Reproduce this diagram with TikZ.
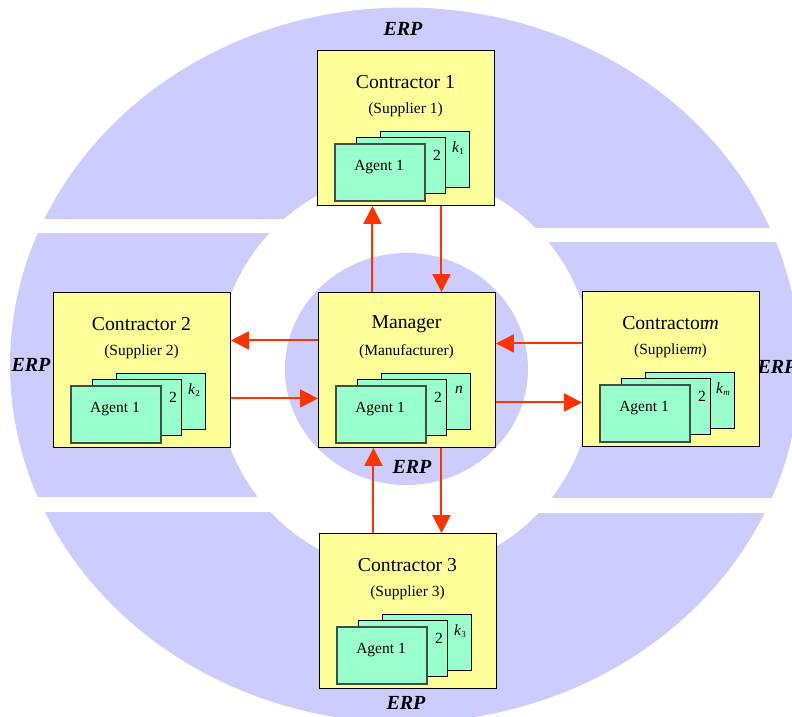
\documentclass[tikz,border=0pt]{standalone}
\usepackage{fontspec}
\setmainfont{Liberation Serif}
\usetikzlibrary{arrows.meta}

\definecolor{erpblue}{HTML}{CCCCFF}
\definecolor{boxyellow}{HTML}{FFFF99}
\definecolor{agentgreen}{HTML}{99FFCC}
\definecolor{flowred}{HTML}{FF3300}
\definecolor{cardedge}{HTML}{3F4F48}

\tikzset{
  unitbox/.style={draw=black, line width=0.9pt, fill=boxyellow,
    minimum width=177pt, minimum height=155pt, inner sep=0pt, anchor=north west},
  card/.style={draw=black, line width=0.8pt, fill=agentgreen,
    minimum width=89pt, minimum height=56pt, inner sep=0pt, anchor=north west},
  frontcard/.style={card, draw=cardedge, line width=1.6pt,
    minimum width=90pt, minimum height=57pt},
  titletext/.style={font=\fontsize{19.7}{22}\selectfont, inner sep=0pt},
  subtext/.style={font=\fontsize{15.5}{18}\selectfont, inner sep=0pt},
  cardtext/.style={font=\fontsize{15.5}{18}\selectfont, inner sep=0pt},
  erplabel/.style={font=\fontsize{20}{24}\selectfont\bfseries\itshape, inner sep=0pt},
  flow/.style={draw=flowred, line width=2pt, -{Triangle[length=18pt,width=18pt]}},
}

% subscript set in a small upright or italic size
\newcommand\smallsub[1]{{\fontsize{9}{9}\selectfont\raisebox{-1.5pt}{#1}}}

% one organisation: yellow box, title, subtitle and a stack of three agent cards
% #1 name, #2 x, #3 y (top-left corner), #4 title, #5 subtitle, #6 label of last agent
\newcommand\agentunit[6]{%
  \begin{scope}[shift={(#2,#3)}]
    \node[unitbox] (#1) at (0,0) {};
    \node[titletext] (#1-title) at (88.5,32) {#4};
    \node[subtext] (#1-sub) at (88.5,60) {#5};
    \node[card] (#1-back) at (63,81) {};
    \node[card] (#1-mid) at (39,87) {};
    \node[frontcard] (#1-front) at (17,93) {};
    \node[cardtext] (#1-agent) at (62,117) {Agent 1};
    \node[cardtext] (#1-two) at (120,105) {2};
    \node[cardtext] (#1-last) at (141,98) {#6};
  \end{scope}}

\begin{document}
\begin{tikzpicture}[x=1pt, y=-1pt]
  \useasboundingbox (0,0) rectangle (792,716);
  \clip (0,0) rectangle (792,716);

  % ERP ring: outer ellipse cut by white bands, white gap, inner disc
  \fill[erpblue] (405,365) ellipse [x radius=395pt, y radius=357.5pt];
  \fill[white] (0,219) rectangle (406,233);
  \fill[white] (406,228) rectangle (792,242);
  \fill[white] (0,497) rectangle (406,512);
  \fill[white] (406,498) rectangle (792,513);
  \fill[white] (405,372) ellipse [x radius=189pt, y radius=199pt];
  \fill[erpblue] (406.5,369) ellipse [x radius=121.5pt, y radius=116pt];

  \node[erplabel] (erp-top) at (403,29) {ERP};
  \node[erplabel] (erp-left) at (31,365) {ERP};
  \node[erplabel] (erp-right) at (777,367) {ERP};
  \node[erplabel] (erp-mid) at (412,467) {ERP};
  \node[erplabel] (erp-bottom) at (406,703) {ERP};

  % organisations
  \agentunit{c1}{317}{50}{Contractor 1}{(Supplier 1)}{\textit{k}\smallsub{1}}
  \agentunit{c2}{53}{292}{Contractor 2}{(Supplier 2)}{\textit{k}\smallsub{2}}
  \agentunit{m}{318}{292}{Manager}{(Manufacturer)}{\textit{n}}
  \agentunit{cm}{582}{291}{Contractor\kern-0.1em\textit{m}}{(Supplier\kern-0.08em\textit{m})}{\textit{k}\smallsub{\textit{m}}}
  \agentunit{c3}{319}{533}{Contractor 3}{(Supplier 3)}{\textit{k}\smallsub{3}}

  % attachment points on the manager box
  \coordinate (m-n1) at ([xshift=-34.5pt]m.north);
  \coordinate (m-n2) at ([xshift=34.5pt]m.north);
  \coordinate (m-s1) at ([xshift=-33.5pt]m.south);
  \coordinate (m-s2) at ([xshift=34.5pt]m.south);
  \coordinate (m-w1) at ([yshift=29.5pt]m.west);
  \coordinate (m-w2) at ([yshift=-28.5pt]m.west);
  \coordinate (m-e1) at ([yshift=26.5pt]m.east);
  \coordinate (m-e2) at ([yshift=-32.5pt]m.east);

  % message flows
  \draw[flow] (m-n1) -- (m-n1 |- c1.south);
  \draw[flow] (c1.south -| m-n2) -- (m-n2);
  \draw[flow] (m-w1) -- (m-w1 -| c2.east);
  \draw[flow] (c2.east |- m-w2) -- (m-w2);
  \draw[flow] (cm.west |- m-e1) -- (m-e1);
  \draw[flow] (m-e2) -- (m-e2 -| cm.west);
  \draw[flow] (c3.north -| m-s1) -- (m-s1);
  \draw[flow] (m-s2) -- (m-s2 |- c3.north);
\end{tikzpicture}
\end{document}
